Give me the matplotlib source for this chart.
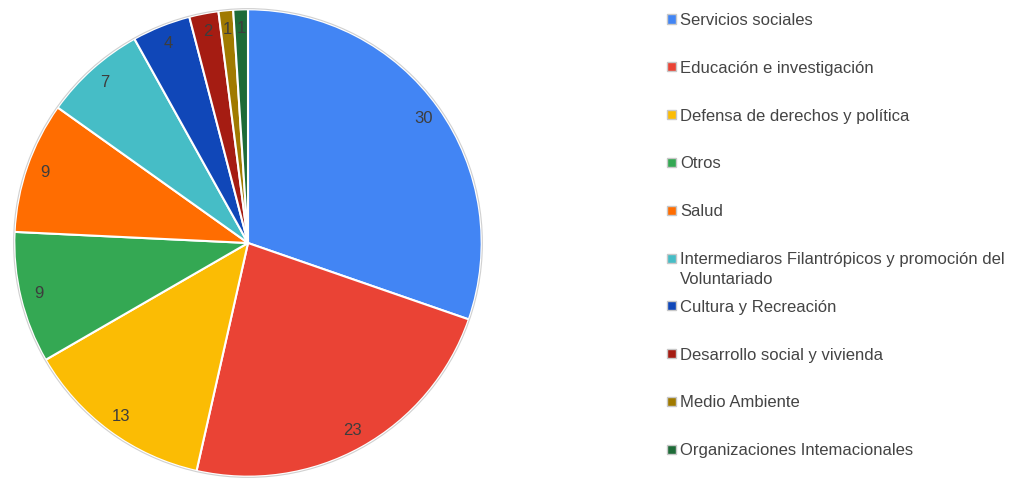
import matplotlib.pyplot as plt
from matplotlib.patches import Rectangle, Circle

plt.rcParams['font.family'] = ['Liberation Sans', 'DejaVu Sans']

categorias = ['Servicios sociales', 'Educación e investigación', 'Defensa de derechos y política',
              'Otros', 'Salud', 'Intermediaros Filantrópicos y promoción del\nVoluntariado',
              'Cultura y Recreación', 'Desarrollo social y vivienda', 'Medio Ambiente',
              'Organizaciones Intemacionales']
valores = [30, 23, 13, 9, 9, 7, 4, 2, 1, 1]
colores = ['#4285F4', '#EA4335', '#FBBC04', '#34A853', '#FF6D01', '#46BDC6',
           '#1047B8', '#A51C12', '#A07A00', '#1E6B38']

W, H = 1013, 483
fig = plt.figure(figsize=(W / 100, H / 100), dpi=100)

# pie centre and radius in pixels
cx, cy, r = 248, 243, 236
ax = fig.add_axes([(cx - r) / W, (H - cy - r) / H, 2 * r / W, 2 * r / H])
ax.pie(valores, colors=colores, startangle=90, counterclock=False, radius=1,
       autopct=lambda p: '%d' % round(p * sum(valores) / 100), pctdistance=0.92,
       wedgeprops=dict(edgecolor='white', linewidth=1.5),
       textprops=dict(color='#3d3d3d', fontsize=12))
ax.add_patch(Circle((0, 0), 1.003, fill=False, edgecolor='#d0d0d0', linewidth=0.8))
ax.set_xlim(-1.01, 1.01)
ax.set_ylim(-1.01, 1.01)
ax.set_aspect('equal')
ax.axis('off')

# legend drawn by hand, rows every ~48 px
y0, paso = 19, 47.8
for i, (cat, col) in enumerate(zip(categorias, colores)):
    yc = y0 + i * paso
    fig.add_artist(Rectangle(((667) / W, 1 - (yc + 4.5) / H), 9 / W, 9 / H,
                             transform=fig.transFigure, facecolor=col,
                             edgecolor='#c8c8c8', linewidth=1))
    fig.text(680 / W, 1 - (yc - 6) / H, cat, fontsize=12, color='#444444',
             va='top', ha='left', linespacing=1.4)

fig.savefig('out.png', dpi=100)
